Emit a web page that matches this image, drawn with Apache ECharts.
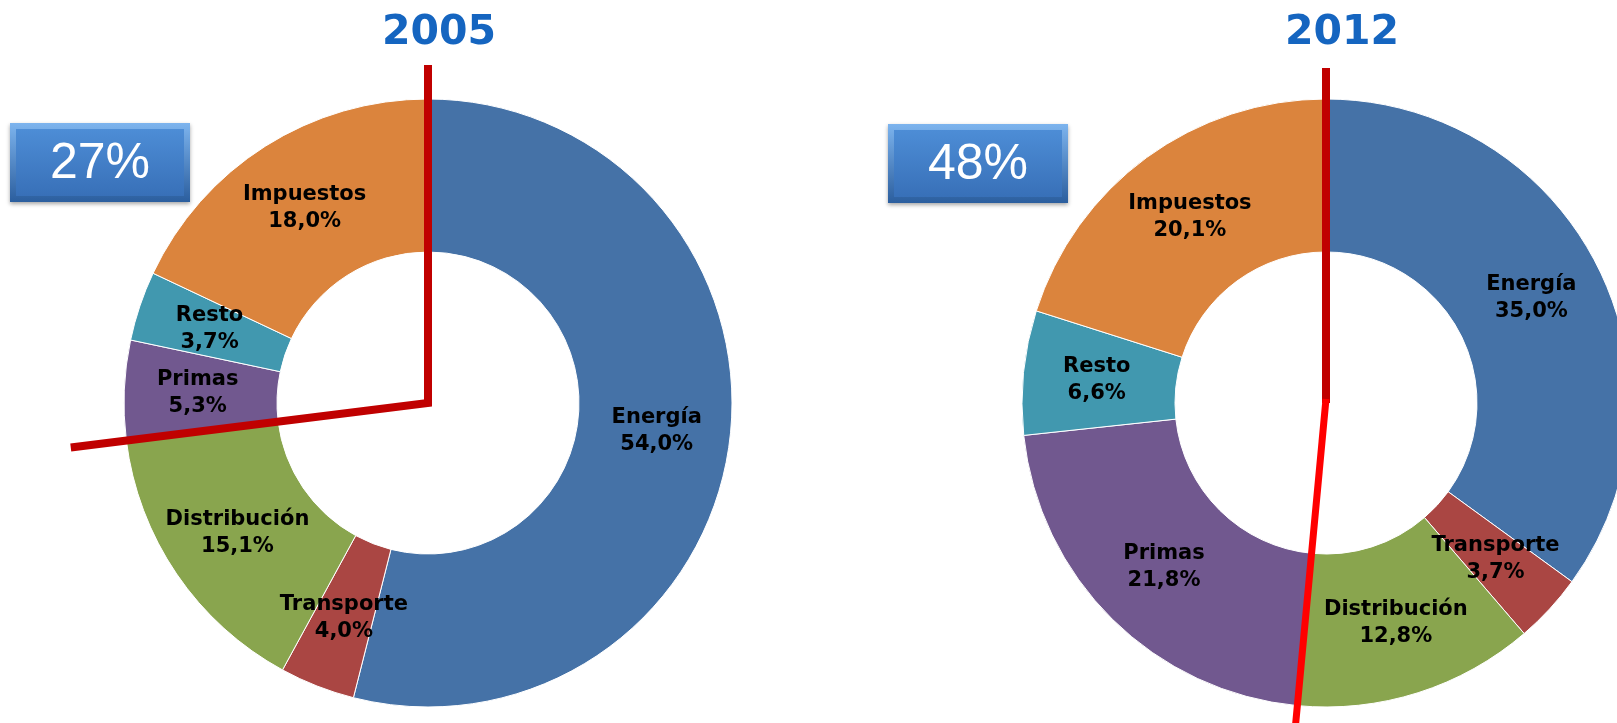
<!DOCTYPE html>
<html>
<head>
<meta charset="utf-8">
<title>Estructura de costes 2005 - 2012</title>
<script src="https://cdn.jsdelivr.net/npm/echarts@6/dist/echarts.min.js"></script>
<style>
html, body { margin: 0; padding: 0; background: #fff; }
#chart { width: 1617px; height: 723px; }
</style>
</head>
<body>
<div id="chart"></div>
<script>
// datos
var years = ['2005', '2012'];
var conceptos = ['Energía', 'Transporte', 'Distribución', 'Primas', 'Resto', 'Impuestos'];
var valores2005 = [54.0, 4.0, 15.1, 5.3, 3.7, 18.0];
var valores2012 = [35.0, 3.7, 12.8, 21.8, 6.6, 20.1];
var cuotas = [27, 48]; // Primas + Resto + Impuestos
var colores = ['#4572A7', '#AA4643', '#89A54E', '#71588F', '#4198AF', '#DB843D'];

var centros = [[428, 403], [1326, 403]];
var radio = [151, 304];

function fmt(v){
	return v.toFixed(1).replace('.', ',') + '%';
}

function serie(valores, centro){
	return {
		type: 'pie',
		center: centro,
		radius: radio,
		startAngle: 90,
		clockwise: true,
		avoidLabelOverlap: false,
		silent: true,
		itemStyle: {
			borderColor: '#fff',
			borderWidth: 1
		},
		label: {
			show: true,
			position: 'inside',
			color: '#000',
			fontFamily: 'DejaVu Sans',
			fontWeight: 'bold',
			fontSize: 21,
			lineHeight: 27,
			formatter: function(p){
				return p.name + '\n' + fmt(p.value);
			}
		},
		labelLine: {show: false},
		data: conceptos.map(function(n, i){
			return {name: n, value: valores[i], itemStyle: {color: colores[i]}};
		})
	};
}

// punto en el borde del sector acumulado (Energía+Transporte+Distribución)
function puntoCorte(valores, centro, r){
	var total = 0, acum = 0;
	valores.forEach(function(v, i){
		total += v;
		if (i < 3) acum += v;
	});
	var a = acum / total * Math.PI * 2;
	return [centro[0] + r * Math.sin(a), centro[1] - r * Math.cos(a)];
}

function caja(x, y, texto){
	return {
		type: 'group',
		left: x,
		top: y,
		z: 100,
		children: [{
			type: 'rect',
			shape: {x: 0, y: 0, width: 180, height: 79},
			style: {
				fill: new echarts.graphic.LinearGradient(0, 0, 0, 1, [
					{offset: 0, color: '#7DB4EE'},
					{offset: 1, color: '#2B5E9E'}
				]),
				shadowBlur: 4,
				shadowColor: 'rgba(0,0,0,0.35)',
				shadowOffsetY: 2
			}
		}, {
			type: 'rect',
			shape: {x: 6, y: 6, width: 168, height: 67},
			style: {
				fill: new echarts.graphic.LinearGradient(0, 0, 0, 1, [
					{offset: 0, color: '#4D8DD6'},
					{offset: 1, color: '#3870B8'}
				])
			}
		}, {
			type: 'text',
			x: 90,
			y: 41,
			style: {
				text: texto,
				fill: '#fff',
				font: '50px "Liberation Sans"',
				align: 'center',
				verticalAlign: 'middle'
			}
		}]
	};
}

var myChart = echarts.init(document.getElementById('chart'));

var p1 = puntoCorte(valores2005, centros[0], 360);
var p2 = puntoCorte(valores2012, centros[1], 345);

var option = {
	animation: false,
	title: [{
		text: years[0],
		left: 434,
		top: 8,
		textAlign: 'center',
		textStyle: {color: '#1565C0', fontFamily: 'DejaVu Sans', fontWeight: 'bold', fontSize: 41}
	}, {
		text: years[1],
		left: 1337,
		top: 8,
		textAlign: 'center',
		textStyle: {color: '#1565C0', fontFamily: 'DejaVu Sans', fontWeight: 'bold', fontSize: 41}
	}],
	series: [
		serie(valores2005, centros[0]),
		serie(valores2012, centros[1])
	],
	graphic: [
		{
			type: 'polyline',
			z: 100,
			shape: {points: [[centros[0][0], 65], centros[0], p1]},
			style: {stroke: '#C00000', lineWidth: 8, fill: null, lineJoin: 'miter'}
		},
		{
			type: 'line',
			z: 100,
			shape: {x1: centros[1][0], y1: 68, x2: centros[1][0], y2: centros[1][1]},
			style: {stroke: '#C00000', lineWidth: 8}
		},
		{
			type: 'line',
			z: 101,
			shape: {x1: centros[1][0], y1: centros[1][1] - 4, x2: p2[0], y2: p2[1]},
			style: {stroke: '#FF0000', lineWidth: 7}
		},
		caja(10, 123, cuotas[0] + '%'),
		caja(888, 124, cuotas[1] + '%')
	]
};

myChart.setOption(option);
window.addEventListener("resize", function(){
	myChart.resize();
});
</script>
</body>
</html>
